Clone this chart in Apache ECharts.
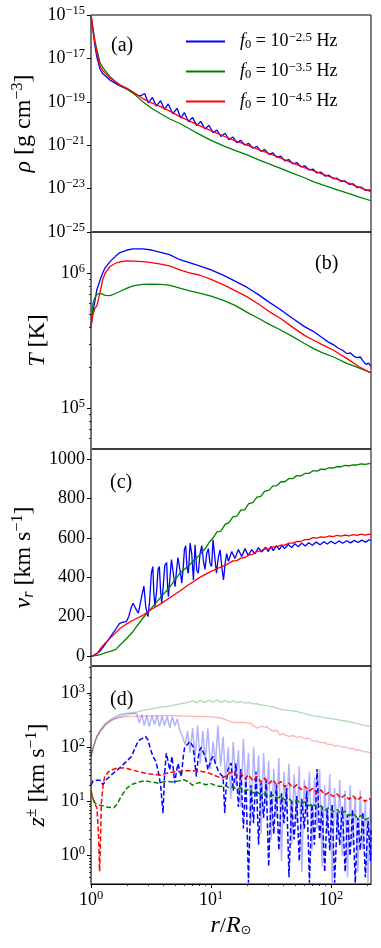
<!DOCTYPE html>
<html>
<head>
<meta charset="utf-8" />
<title>wind profiles</title>
<script src="https://cdn.jsdelivr.net/npm/echarts@6/dist/echarts.min.js"></script>
<style>
  html, body { margin: 0; padding: 0; background: #fff; }
  #main { width: 381px; height: 948px; }
</style>
</head>
<body>
<div id="main"></div>
<script>
// ---- radius grids, r / R_sun ----
var rSmooth = [1, 1.04, 1.08, 1.12, 1.19, 1.25, 1.31, 1.44, 1.6, 1.74, 2.0, 2.24, 2.7, 3.2, 3.8, 4.5, 5.5, 6.5, 8, 10,
  13, 16, 20, 25, 30, 38, 47, 60, 71, 85, 105, 135, 170, 215];
var rNoise = [2.6, 2.8, 3.0, 3.25, 3.5, 3.8, 4.1, 4.4, 4.8, 5.2, 5.6, 6.0, 6.5, 7.0, 7.6, 8.2, 8.9, 9.6, 10.4, 11.2,
  12.1, 13.1, 14.1, 15.2, 16.4, 17.7, 19.1, 20.6, 22.3, 24.1, 26, 28, 30.3, 32.7, 35.3, 38.1, 41.2, 44.5, 48, 51.9,
  56, 60.5, 65.3, 70.5, 76.2, 82.3, 88.9, 96, 103.7, 112, 121, 130.6, 141, 152.3, 164.5, 177.7, 191.9, 207.2, 215];
var rDense = [2.4, 2.52, 2.65, 2.78, 2.92, 3.06, 3.22, 3.38, 3.55, 3.72, 3.91, 4.1, 4.31, 4.53, 4.75, 4.99, 5.24, 5.5,
  5.78, 6.07, 6.37, 6.69, 7.02, 7.37, 7.74, 8.13, 8.54, 8.96, 9.41, 9.88, 10.4, 10.9, 11.4, 12.0, 12.6, 13.2, 13.9, 14.6,
  15.3, 16.1, 16.9, 17.7, 18.6, 19.5, 20.5, 21.5, 22.6, 23.7, 24.9, 26.1, 27.4, 28.8, 30.2, 31.7, 33.3, 35.0, 36.7, 38.6,
  40.5, 42.5, 44.6, 46.9, 49.2, 51.7, 54.3, 57.0, 59.8, 62.8, 66.0, 69.3, 72.7, 76.4, 80.2, 84.2, 88.4, 92.8, 97.5, 102,
  107, 113, 118, 124, 131, 137, 144, 151, 159, 167, 175, 184, 193, 203, 213, 215];

// ---- (a) log10 density [g cm^-3] ----
var rhoRed = [-15, -15.7, -16.3, -16.75, -17.35, -17.55, -17.67, -17.9, -18.08, -18.22, -18.38, -18.55, -18.85, -19.05,
  -19.22, -19.42, -19.68, -19.87, -20.1, -20.33, -20.6, -20.8, -21.0, -21.2, -21.37, -21.6, -21.8, -22.03, -22.17,
  -22.33, -22.52, -22.71, -22.93, -23.14];
var rhoGreen = [-15, -15.65, -16.2, -16.6, -17.2, -17.4, -17.55, -17.85, -18.07, -18.23, -18.42, -18.6, -19.0, -19.3,
  -19.55, -19.78, -20.0, -20.22, -20.5, -20.78, -21.05, -21.25, -21.45, -21.68, -21.85, -22.07, -22.28, -22.5, -22.68,
  -22.83, -23.0, -23.2, -23.38, -23.56];
var rBlueA = rSmooth.slice(0, 12).concat([2.45], rNoise);
var rhoBlue = [-15, -15.75, -16.45, -16.95, -17.5, -17.7, -17.8, -18.0, -18.15, -18.27, -18.42, -18.58, -18.7,
  -18.72, -18.62, -19.05, -18.8, -19.2, -18.95, -19.35, -19.1, -19.55, -19.3, -19.75, -19.5, -19.92, -19.72, -20.1,
  -19.9, -20.26, -20.08, -20.42, -20.3, -20.6, -20.45, -20.75, -20.62, -20.88, -20.78, -21.0, -20.92, -21.14, -21.05,
  -21.28, -21.2, -21.42, -21.35, -21.56, -21.5, -21.72, -21.66, -21.86, -21.8, -22.0, -21.95, -22.14, -22.1, -22.28,
  -22.24, -22.42, -22.38, -22.54, -22.52, -22.67, -22.65, -22.8, -22.78, -22.95, -22.93, -23.08, -23.06, -23.12];
var rhoTicks = [-25, -23, -21, -19, -17, -15];

// ---- (b) log10 temperature [K] ----
var rBlueB = rSmooth.slice(0, 30).concat([95, 105, 115, 125, 135, 145, 155, 165, 175, 185, 195, 205, 215]);
var tBlue = [5.60, 5.72, 5.80, 5.88, 5.95, 6.0, 6.04, 6.086, 6.125, 6.153, 6.172, 6.18, 6.18, 6.172, 6.155, 6.138,
  6.10, 6.08, 6.054, 6.025, 5.98, 5.94, 5.895, 5.84, 5.79, 5.73, 5.67, 5.605, 5.57, 5.52,
  5.49, 5.47, 5.445, 5.43, 5.405, 5.41, 5.385, 5.375, 5.38, 5.35, 5.325, 5.335, 5.31];
var tRed = [5.60, 5.70, 5.74, 5.76, 5.86, 5.95, 6.0, 6.05, 6.074, 6.085, 6.091, 6.09, 6.086, 6.078, 6.068, 6.055,
  6.025, 6.005, 5.987, 5.955, 5.91, 5.87, 5.825, 5.77, 5.72, 5.665, 5.605, 5.54, 5.506, 5.47, 5.43, 5.37, 5.31, 5.26];
var tGreen = [5.60, 5.78, 5.82, 5.845, 5.85, 5.845, 5.836, 5.834, 5.85, 5.865, 5.89, 5.906, 5.918, 5.92, 5.917, 5.912,
  5.89, 5.872, 5.852, 5.83, 5.795, 5.76, 5.71, 5.665, 5.625, 5.58, 5.535, 5.48, 5.444, 5.41, 5.38, 5.333, 5.30, 5.264];
var tTicks = [5, 6];
var tRange = [5.0e4, 2.02e6];

// ---- (c) radial velocity [km/s] ----
var rRedC = rSmooth.slice(0, 21).concat(rNoise.slice(22));
var vRed = [0, 1, 4, 12, 35, 52, 66, 90, 118, 140, 165, 182, 207, 238, 265, 295, 330, 362, 398, 430, 460,
  470, 483, 484, 497, 500, 513, 516, 531, 534, 544, 544, 554, 554, 563, 563, 573, 573, 582, 581, 591, 591, 601, 598,
  605, 602, 609, 606, 612, 608, 614, 610, 616, 612, 618, 613, 619, 616];
var rGreenC = rSmooth.slice(0, 19).concat([9.0, 9.74], rNoise.slice(18));
var vGreen = [0, 1, 2, 4, 8, 12, 17, 24, 33, 55, 92, 125, 192, 245, 298, 348, 420, 458, 512, 548, 580,
  600, 630, 634, 668, 677, 706, 710, 740, 742, 773, 778, 806, 810, 836, 840, 862, 864, 884, 884, 900, 900, 915, 914,
  926, 926, 940, 938, 948, 946, 955, 953, 961, 960, 967, 965, 970, 969, 974, 972, 976, 976];
var rBlueC = [1, 1.04, 1.08, 1.12, 1.19, 1.25, 1.31, 1.44, 1.6, 1.73, 1.85, 1.97, 2.06, 2.16, 2.24, 2.32, 2.4, 2.48,
  2.56, 2.66, 2.76, 2.86, 2.98, 3.08, 3.18, 3.27, 3.34, 3.41, 3.52, 3.62, 3.71, 3.8, 3.88, 4.0, 4.12, 4.27, 4.34, 4.41,
  4.55, 4.68, 4.8, 4.9, 5.01, 5.15, 5.3, 5.45, 5.57, 5.7, 5.85, 6.0, 6.15, 6.3, 6.47, 6.69, 6.9, 7.13, 7.36, 7.6, 7.83,
  8.1, 8.37, 8.65, 8.9, 9.2, 9.5, 9.8, 10.1, 10.4, 10.75, 11.1, 11.5, 11.9, 12.3, 12.7, 13.1, 13.5, 13.95, 14.4, 14.85,
  15.3, 15.8, 16.3, 16.9, 17.4, 18, 18.6, 19.2, 19.8, 20.4, 21.1, 21.8, 22.5, 23.2, 24, 24.8, 25.6, 26.4, 27.3, 28.5,
  30, 31.5, 33, 35, 37, 39, 41, 44, 47, 50, 53, 57, 61, 65, 70, 75, 81, 87, 93, 100, 108, 116, 125, 135, 145, 156,
  168, 180, 194, 207, 215];
var vBlue = [0, 2, 7, 14, 25, 42, 60, 95, 135, 166, 172, 175, 200, 245, 268, 250, 232, 218, 225, 310, 355, 250, 200,
  280, 420, 454, 320, 251, 330, 440, 454, 330, 268, 360, 460, 474, 360, 301, 400, 490, 500, 400, 352, 430, 500, 510,
  420, 370, 440, 540, 560, 450, 420, 573, 520, 386, 564, 437, 420, 520, 560, 480, 440, 520, 545, 470, 454, 590, 500,
  420, 500, 539, 450, 386, 470, 520, 480, 470, 530, 540, 495, 490, 540, 545, 505, 500, 545, 550, 510, 505, 540, 545,
  518, 515, 550, 555, 528, 525, 552, 530, 556, 535, 560, 540, 562, 545, 566, 550, 570, 555, 572, 558, 575, 562, 578,
  565, 580, 568, 582, 570, 584, 572, 585, 574, 587, 576, 588, 578, 590, 585];
var vTicks = [0, 200, 400, 600, 800, 1000];

// ---- (d) log10 Elsasser amplitudes [km/s]; solid = z+, dashed = z- ----
var rGreenL = rSmooth.slice(0, 18).concat([7.0, 7.6, 8.2, 8.9, 9.6, 10.4, 11.2, 12.1, 13.1, 14.1, 15.2, 16.4, 17.7,
  19.1, 20.6, 22.3, 24.1, 26, 28, 30.3, 32.7, 35.3, 38.1, 44.5, 51.9, 60.5, 70.5, 82.3, 96, 112, 130.6, 152.3, 177.7,
  207.2, 215]);
var zGreenL = [1.83, 1.98, 2.1, 2.2, 2.28, 2.34, 2.40, 2.47, 2.53, 2.56, 2.6, 2.63, 2.68, 2.71, 2.74, 2.76, 2.8, 2.83,
  2.86, 2.82, 2.865, 2.825, 2.87, 2.83, 2.87, 2.83, 2.865, 2.83, 2.855, 2.825, 2.845, 2.815, 2.83, 2.8, 2.805, 2.78,
  2.775, 2.755, 2.745, 2.725, 2.70, 2.68, 2.66, 2.62, 2.58, 2.56, 2.535, 2.51, 2.485, 2.455, 2.42, 2.39, 2.38];
var rRedL = rSmooth.slice(0, 20).concat([12.2, 14.4, 15.7, 18, 21.2, 22.6, 24, 25.3, 26.5, 27.8, 29.1, 31, 33, 35,
  37.6, 40, 42, 45, 48, 52, 56, 60, 65, 71, 76, 82, 88, 94, 100, 107, 115, 123, 132, 141, 151, 162, 174, 186, 200, 215]);
var zRedL = [1.83, 1.98, 2.1, 2.2, 2.3, 2.36, 2.42, 2.49, 2.53, 2.55, 2.565, 2.57, 2.575, 2.58, 2.585, 2.585, 2.58,
  2.575, 2.57, 2.56,
  2.54, 2.48, 2.455, 2.46, 2.446, 2.40, 2.354, 2.37, 2.39, 2.37, 2.38, 2.33, 2.29, 2.32, 2.23, 2.25, 2.22, 2.2, 2.22,
  2.18, 2.2, 2.16, 2.17, 2.11, 2.12, 2.08, 2.09, 2.05, 2.06, 2.02, 2.035, 2.0, 2.01, 1.975, 1.98, 1.945, 1.95, 1.915,
  1.92, 1.89];
var rBlueL = rSmooth.slice(0, 12).concat(rDense);
var zBlueL = [1.83, 1.98, 2.1, 2.2, 2.3, 2.37, 2.43, 2.5, 2.56, 2.6, 2.63, 2.63,
  2.62, 2.45, 2.6, 2.4, 2.6, 2.38, 2.59, 2.42, 2.59, 2.38, 2.58, 2.40, 2.57, 2.36, 2.56, 2.4, 2.52, 2.3,
  2.2, 2.05, 2.3, 1.9, 2.35, 1.8, 2.4, 1.7, 2.3, 1.75, 2.35, 1.6, 2.1, 1.7, 2.4, 1.65, 2.2, 1.4, 2.0, 1.05,
  2.1, 1.3, 1.95, 0.9, 2.15, 1.2, 1.9, 0.6, 2.0, 1.1, 1.85, 0.4, 1.9, 0.9, 1.75,
  0.3, 1.6, 0.7, 1.8, -0.1, 1.55, 0.8, 1.7, 0.2, 1.5, 0.6, 1.65, -0.3, 1.4, 0.7, 1.55, 0.1, 1.45, 0.5, 1.6, -0.2, 1.3,
  0.4, 1.5, -0.5, 1.25, 0.3, 1.4, 0.0, 1.2, -0.4, 1.3, 0.2, 1.1, -0.3, 1.2, 0.1, 1.0, -0.5, 1.05, 0.6];
var rBlueD = [1, 1.04, 1.07, 1.12, 1.19, 1.22, 1.26, 1.34, 1.53, 1.79, 2.17, 2.46, 2.6, 2.71, 2.85, 2.98, 3.1, 3.28,
  3.45, 3.61, 3.8, 3.98, 4.1, 4.24, 4.38, 4.52, 4.63, 4.73, 4.85, 4.98, 5.15, 5.31, 5.5, 5.66, 5.85, 6.04, 6.35, 6.64,
  6.85, 7.08, 7.3, 7.55, 7.8, 8.05, 8.3, 8.58, 9.0, 9.43, 9.9, 10.4, 10.9, 11.4, 12.0, 12.6, 13.0, 13.4, 13.8, 14.7]
  .concat(rDense.slice(38));
var zBlueD = [1.30, 1.38, 1.40, 1.39, 1.39, 1.35, 1.31, 1.40, 1.52, 1.646, 1.83, 2.107, 2.15, 2.17, 2.2, 2.14, 2.0,
  1.83, 1.75, 1.585, 1.3, 0.786, 1.5, 1.89, 1.75, 1.58, 1.7, 1.83, 1.6, 1.34, 1.55, 1.7, 1.55, 1.46, 1.8, 2.015, 2.05,
  2.107, 2.08, 2.015, 1.75, 1.46, 1.8, 1.95, 2.0, 2.015, 1.8, 1.585, 1.75, 1.83, 1.7, 1.585, 1.5, 1.46, 0.786, 1.3,
  1.585, 1.71,
  1.2, 1.7, 0.9, 1.6, 0.5, 1.45, -0.5, 1.3, 0.6, 1.55, 0.2, 1.35, 0.7, 1.4, -0.2, 1.2, 0.4, 1.3, 0.1, 1.15, 0.6, 1.25,
  -0.4, 1.0, 0.3, 1.1, -0.1, 1.05, 0.5, 1.2, -0.5, 0.95, 0.2, 1.6, 0.3, 0.9, -0.3, 0.85, 0.1, 0.95, -0.5, 0.8, 0.2,
  0.9, -0.3, 0.75, 0.0, 0.85, -0.5, 0.7, 0.1, 0.8, -0.4, 0.65, -0.1, 0.5];
var rRedD = [1, 1.04, 1.08, 1.12, 1.155, 1.18, 1.2, 1.22, 1.26, 1.3, 1.4, 1.5, 1.65, 1.8, 2.0, 2.17, 2.5, 2.8, 3.3,
  3.8, 4.5, 5.0, 6.4, 8, 9.6, 11, 12.2, 13.5, 14.1].concat(rNoise.slice(23));
var zRedD = [1.21, 1.05, 0.95, 0.88, 0.4, -0.29, 0.3, 0.97, 1.3, 1.46, 1.55, 1.585, 1.616, 1.62, 1.61, 1.585, 1.55,
  1.524, 1.5, 1.49, 1.53, 1.55, 1.57, 1.56, 1.524, 1.47, 1.43, 1.47, 1.52,
  1.55, 1.47, 1.52, 1.42, 1.49, 1.38, 1.46, 1.36, 1.43, 1.33, 1.40, 1.30, 1.37, 1.27, 1.34, 1.25, 1.31, 1.22, 1.28,
  1.19, 1.24, 1.15, 1.21, 1.12, 1.17, 1.09, 1.14, 1.06, 1.12, 1.04, 1.1, 1.02, 1.08, 1.0, 1.06, 1.03];
var rGreenD = [1, 1.04, 1.08, 1.15, 1.25, 1.35, 1.45, 1.55, 1.65, 1.79, 2.0, 2.17, 2.5, 2.8, 3.2, 3.6, 4.2, 4.8, 5.4,
  6.0, 6.5, 7.0, 7.5, 8.0, 9.0, 10, 11, 12.2, 13.2, 14.1].concat(rNoise.slice(23));
var zGreenD = [1.155, 1.05, 0.97, 0.94, 0.92, 0.90, 0.89, 0.885, 0.95, 1.1, 1.25, 1.31, 1.36, 1.38, 1.36, 1.34, 1.37,
  1.36, 1.38, 1.40, 1.36, 1.30, 1.33, 1.35, 1.31, 1.33, 1.29, 1.277, 1.3, 1.25,
  1.27, 1.22, 1.25, 1.19, 1.22, 1.16, 1.18, 1.12, 1.15, 1.09, 1.12, 1.06, 1.09, 1.03, 1.05, 0.99, 1.02, 0.96, 0.99,
  0.92, 0.96, 0.88, 0.92, 0.84, 0.89, 0.81, 0.85, 0.77, 0.82, 0.74, 0.78, 0.70, 0.74, 0.66, 0.70, 0.67];
var zTicks = [0, 1, 2, 3];
var zRange = [0.3, 3162];

var xTicks = [0, 1, 2];
var rMax = 215;
var legendExp = ['\u22122.5', '\u22123.5', '\u22124.5'];
var seriesNames = ['f25', 'f35', 'f45'];

// ---- helpers ----
var FONT = "'Liberation Serif', 'DejaVu Serif', serif";
var BLUE = '#0000ff', GREEN = '#008000', RED = '#ff0000';

function pts(r, v) {
  return r.map(function (ri, i) { return [Math.log10(ri), v[i]]; });
}
function pow10Label(v) {
  var e = Math.round(v);
  return '{b|10}{s|' + (e < 0 ? '\u2212' + (-e) : e) + '}';
}
function minorLog(lo, hi) {
  var out = [];
  for (var e = Math.floor(lo); e <= Math.ceil(hi); e++) {
    for (var m = 2; m <= 9; m++) {
      var v = e + Math.log10(m);
      if (v > lo + 1e-6 && v < hi - 1e-6) out.push(v);
    }
  }
  return out;
}
var powRich = {
  b: { fontFamily: FONT, fontSize: 18, color: '#000' },
  s: { fontFamily: FONT, fontSize: 12.5, color: '#000', padding: [0, 0, 9, 0] }
};
var nameRich = {
  i: { fontFamily: FONT, fontSize: 24, fontStyle: 'italic', color: '#000' },
  s: { fontFamily: FONT, fontSize: 16, color: '#000', padding: [0, 0, 12, 0] },
  d: { fontFamily: FONT, fontSize: 16, fontStyle: 'italic', color: '#000', padding: [10, 0, 0, 0] },
  o: { fontFamily: "'DejaVu Sans', sans-serif", fontSize: 13, color: '#000', padding: [9, 0, 0, 0] }
};

var grids = [
  { left: 91, right: 10, top: 15, height: 217 },
  { left: 91, right: 10, top: 232, height: 217 },
  { left: 91, right: 10, top: 449, height: 217 },
  { left: 91, right: 10, top: 666, height: 218 }
].map(function (g) {
  g.show = true; g.borderColor = '#000'; g.borderWidth = 1; g.backgroundColor = 'transparent';
  return g;
});

function xAxisFor(i) {
  var ax = {
    type: 'value', gridIndex: i, min: 0, max: Math.log10(rMax), position: 'bottom',
    axisLine: { show: false, onZero: false },
    axisTick: { show: false }, axisLabel: { show: false }, splitLine: { show: false }
  };
  if (i === 3) {
    ax.axisLine = { show: true, onZero: false, lineStyle: { color: '#000', width: 1 } };
    ax.axisTick = { show: true, customValues: xTicks, length: 4, lineStyle: { color: '#000', width: 1 } };
    ax.axisLabel = { show: true, customValues: xTicks, formatter: pow10Label, rich: powRich, margin: 5 };
    ax.name = '{i|r}/{i|R}{o|\u2299}';
    ax.nameLocation = 'middle';
    ax.nameGap = 30;
    ax.nameTextStyle = { fontFamily: FONT, fontSize: 22, color: '#000', rich: nameRich };
  }
  return ax;
}

function yAxisFor(i, min, max, ticks, logLabels, name, gap) {
  return {
    type: 'value', gridIndex: i, min: min, max: max, position: 'left',
    axisLine: { show: true, onZero: false, lineStyle: { color: '#6e6e6e', width: 1.6 } },
    axisTick: { show: true, customValues: ticks, length: 4, lineStyle: { color: '#000', width: 1 } },
    axisLabel: logLabels
      ? { customValues: ticks, formatter: pow10Label, rich: powRich, margin: 6 }
      : { customValues: ticks, formatter: function (v) { return String(v); },
          fontFamily: FONT, fontSize: 18, color: '#000', margin: 6 },
    splitLine: { show: false },
    name: name, nameLocation: 'middle', nameGap: gap, nameRotate: 90,
    nameTextStyle: { fontFamily: FONT, fontSize: 24, color: '#000', rich: nameRich }
  };
}

function minorAxis(type, i, min, max, ticks) {
  return {
    type: 'value', gridIndex: i, min: min, max: max, position: type === 'x' ? 'bottom' : 'left',
    axisLine: { show: false, onZero: false },
    axisTick: { show: true, customValues: ticks, length: 2, lineStyle: { color: '#000', width: 0.8 } },
    axisLabel: { show: false }, splitLine: { show: false }
  };
}

function line(name, xi, data, color, opts) {
  opts = opts || {};
  return {
    name: name, type: 'line', xAxisIndex: xi, yAxisIndex: xi, data: data,
    symbol: 'none', animation: false, z: opts.z || 2,
    lineStyle: { color: color, width: opts.width || 1.3, type: opts.dash || 'solid', opacity: opts.opacity || 1 },
    itemStyle: { color: color }
  };
}

var tMin = Math.log10(tRange[0]), tMax = Math.log10(tRange[1]);
var zMin = Math.log10(zRange[0]), zMax = Math.log10(zRange[1]);
var xMaxLog = Math.log10(rMax);

var option = {
  animation: false,
  backgroundColor: '#fff',
  grid: grids,
  legend: {
    data: seriesNames,
    orient: 'vertical', left: 180, top: 26,
    itemWidth: 39, itemHeight: 14, itemGap: 9.5,
    itemStyle: { opacity: 0 },
    textStyle: {
      fontFamily: FONT, fontSize: 18, color: '#000',
      rich: {
        g: { width: 10 },
        i: { fontFamily: FONT, fontSize: 18, fontStyle: 'italic', color: '#000' },
        d: { fontFamily: FONT, fontSize: 12.5, color: '#000', padding: [7, 0, 0, 0] },
        t: { fontFamily: FONT, fontSize: 18, color: '#000' },
        s: { fontFamily: FONT, fontSize: 13, color: '#000', padding: [0, 0, 8, 0] }
      }
    },
    formatter: function (name) {
      var k = seriesNames.indexOf(name);
      return '{g| }{i|f}{d|0}{t| = 10}{s|' + legendExp[k] + '}{t| Hz}';
    }
  },
  graphic: [
    { type: 'text', left: 111, top: 36, style: { text: '(a)', font: '20px ' + FONT, fill: '#000' } },
    { type: 'text', left: 315, top: 254, style: { text: '(b)', font: '20px ' + FONT, fill: '#000' } },
    { type: 'text', left: 110, top: 473, style: { text: '(c)', font: '20px ' + FONT, fill: '#000' } },
    { type: 'text', left: 110, top: 690, style: { text: '(d)', font: '20px ' + FONT, fill: '#000' } }
  ],
  xAxis: [xAxisFor(0), xAxisFor(1), xAxisFor(2), xAxisFor(3),
    minorAxis('x', 3, 0, xMaxLog, minorLog(0, xMaxLog))],
  yAxis: [
    yAxisFor(0, -25, -15, rhoTicks, true, '{i|\u03c1} [g cm{s|\u22123}]', 53),
    yAxisFor(1, tMin, tMax, tTicks, true, '{i|T} [K]', 38),
    yAxisFor(2, -50, 1050, vTicks, false, '{i|v}{d|r} [km s{s|\u22121}]', 53),
    yAxisFor(3, zMin, zMax, zTicks, true, '{i|z}{s|\u00b1} [km s{s|\u22121}]', 38),
    minorAxis('y', 1, tMin, tMax, minorLog(tMin, tMax)),
    minorAxis('y', 3, zMin, zMax, minorLog(zMin, zMax))
  ],
  series: [
    line(seriesNames[0], 0, pts(rBlueA, rhoBlue), BLUE),
    line(seriesNames[1], 0, pts(rSmooth, rhoGreen), GREEN),
    line(seriesNames[2], 0, pts(rSmooth, rhoRed), RED),

    line(seriesNames[0], 1, pts(rBlueB, tBlue), BLUE),
    line(seriesNames[1], 1, pts(rSmooth, tGreen), GREEN),
    line(seriesNames[2], 1, pts(rSmooth, tRed), RED),

    line(seriesNames[0], 2, pts(rBlueC, vBlue), BLUE),
    line(seriesNames[1], 2, pts(rGreenC, vGreen), GREEN),
    line(seriesNames[2], 2, pts(rRedC, vRed), RED),

    line('blueOut', 3, pts(rBlueL, zBlueL), BLUE, { opacity: 0.3, width: 1.5 }),
    line('greenOut', 3, pts(rGreenL, zGreenL), GREEN, { opacity: 0.3 }),
    line('redOut', 3, pts(rRedL, zRedL), RED, { opacity: 0.3 }),
    line('blueIn', 3, pts(rBlueD, zBlueD), BLUE, { dash: [5, 2.5], width: 1.5, z: 3 }),
    line('redIn', 3, pts(rRedD, zRedD), RED, { dash: [5, 2.5], width: 1.5, z: 3 }),
    line('greenIn', 3, pts(rGreenD, zGreenD), GREEN, { dash: [5, 2.5], width: 1.5, z: 3 })
  ]
};

var myChart = echarts.init(document.getElementById('main'));
myChart.setOption(option);
</script>
</body>
</html>
